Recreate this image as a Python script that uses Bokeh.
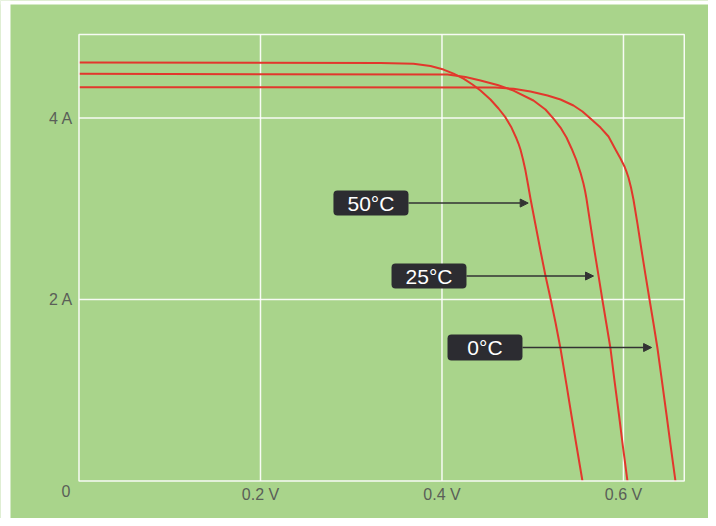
from bokeh.plotting import figure
from bokeh.models import Range1d, BoxAnnotation, Label, Arrow, NormalHead
from bokeh.core.properties import value
from bokeh.embed import file_html
from bokeh.resources import INLINE

# ---- data (voltage in V, current in A) ----
volt_50 = [0.0, 0.3322, 0.3686, 0.3873, 0.4017, 0.4127, 0.4237, 0.4336, 0.4424, 0.4534, 0.4623,
           0.4700, 0.4766, 0.4821, 0.4843, 0.4865, 0.4893, 0.4920, 0.4948, 0.4975, 0.5030, 0.5085,
           0.5140, 0.5196, 0.5251, 0.5306, 0.5372, 0.5427, 0.5482, 0.5548]
amp_50 = [4.612, 4.606, 4.597, 4.573, 4.534, 4.490, 4.435, 4.369, 4.303, 4.204, 4.105,
          4.006, 3.895, 3.774, 3.719, 3.653, 3.543, 3.421, 3.267, 3.113, 2.826, 2.540,
          2.264, 2.011, 1.747, 1.460, 1.063, 0.722, 0.391, 0.0]

volt_25 = [0.0, 0.4061, 0.4259, 0.4424, 0.4612, 0.4788, 0.5008, 0.5140, 0.5229, 0.5306, 0.5372,
           0.5438, 0.5482, 0.5526, 0.5559, 0.5576, 0.5592, 0.5636, 0.5680, 0.5725, 0.5769, 0.5813,
           0.5857, 0.5901, 0.5950, 0.5994, 0.6044]
amp_25 = [4.487, 4.479, 4.452, 4.413, 4.364, 4.303, 4.193, 4.094, 3.994, 3.895, 3.785,
          3.642, 3.532, 3.399, 3.278, 3.201, 3.113, 2.826, 2.540, 2.264, 1.989, 1.725,
          1.460, 1.107, 0.733, 0.380, 0.0]

volt_0 = [0.0, 0.4590, 0.4788, 0.4975, 0.5163, 0.5306, 0.5449, 0.5548, 0.5636, 0.5747, 0.5835,
          0.5912, 0.5967, 0.6011, 0.6033, 0.6055, 0.6083, 0.6110, 0.6154, 0.6198, 0.6242, 0.6287,
          0.6331, 0.6375, 0.6419, 0.6474, 0.6518, 0.6573]
amp_0 = [4.339, 4.336, 4.322, 4.292, 4.248, 4.204, 4.138, 4.072, 3.994, 3.895, 3.796,
         3.653, 3.554, 3.466, 3.410, 3.344, 3.234, 3.102, 2.837, 2.551, 2.275, 2.000,
         1.736, 1.460, 1.140, 0.733, 0.402, 0.0]

x_ticks = [0.2, 0.4, 0.6]
x_tick_labels = ["0.2 V", "0.4 V", "0.6 V"]
y_ticks = [2, 4]
y_tick_labels = ["2 A", "4 A"]
origin_label = "0"
x_max = 0.667
y_max = 4.92

temp_labels = ["50°C", "25°C", "0°C"]
arrow_tip_v = [0.495, 0.567, 0.631]

# ---- layout of the callout boxes (data coordinates) ----
box_left = [0.2804, 0.3444, 0.4061]
box_right = [0.3631, 0.4270, 0.4887]
box_top = [3.20, 2.397, 1.614]
box_bottom = [2.926, 2.121, 1.328]

GREEN = "#a9d48b"
RED = "#e2372c"
DARK = "#2c2c31"
GREY = "#5a5f58"
FONT = "Liberation Sans"

X_LO, X_HI = -0.0865, 0.6937
Y_LO, Y_HI = -0.413, 5.295

# the plotting frame covers the whole canvas; the chart box (0..x_max, 0..y_max) sits inside it
p = figure(width=708, height=518, x_range=Range1d(X_LO, X_HI), y_range=Range1d(Y_LO, Y_HI),
           output_backend="svg", toolbar_location=None, x_axis_location=None, y_axis_location=None,
           min_border=0, background_fill_color=GREEN, border_fill_color=GREEN,
           outline_line_color=None)
p.grid.visible = False

# white paper edges at the left and top, as in the original
p.add_layout(BoxAnnotation(left=X_LO, right=X_LO + 10 / 908.0, fill_color="white", fill_alpha=1,
                           line_color=None))
p.add_layout(BoxAnnotation(bottom=Y_HI - 4 / 90.75, top=Y_HI, fill_color="white", fill_alpha=1,
                           line_color=None))

# grid lines and frame
p.segment(x0=x_ticks, y0=[0] * len(x_ticks), x1=x_ticks, y1=[y_max] * len(x_ticks),
          line_color="white", line_width=1.5, line_alpha=0.9)
p.segment(x0=[0] * len(y_ticks), y0=y_ticks, x1=[x_max] * len(y_ticks), y1=y_ticks,
          line_color="white", line_width=1.5, line_alpha=0.9)
p.add_layout(BoxAnnotation(left=0, right=x_max, bottom=0, top=y_max, fill_alpha=0,
                           line_color="white", line_width=1.5, line_alpha=0.9))

# tick labels
p.text(x=x_ticks, y=[0] * len(x_ticks), text=x_tick_labels, y_offset=13, text_align="center",
       text_baseline="middle", text_color=GREY, text_font=value(FONT), text_font_size="16px")
p.text(x=[0] * len(y_ticks), y=y_ticks, text=y_tick_labels, x_offset=-6, text_align="right",
       text_baseline="middle", text_color=GREY, text_font=value(FONT), text_font_size="16px")
p.text(x=[0], y=[0], text=[origin_label], x_offset=-13, y_offset=10, text_align="center",
       text_baseline="middle", text_color=GREY, text_font=value(FONT), text_font_size="16px")

for vv, ii in ((volt_50, amp_50), (volt_25, amp_25), (volt_0, amp_0)):
    p.line(vv, ii, line_color=RED, line_width=2, line_join="round")

for k, lab in enumerate(temp_labels):
    p.add_layout(BoxAnnotation(left=box_left[k], right=box_right[k], top=box_top[k], bottom=box_bottom[k],
                               fill_color=DARK, fill_alpha=1, line_color=None, border_radius=4))
    cy = (box_top[k] + box_bottom[k]) / 2
    p.add_layout(Label(x=(box_left[k] + box_right[k]) / 2, y=cy, text=lab, text_align="center",
                       text_baseline="middle", text_color="white", text_font=FONT, text_font_size="21px"))
    p.add_layout(Arrow(x_start=box_right[k], y_start=cy, x_end=arrow_tip_v[k], y_end=cy,
                       line_color="#333333", line_width=1.5,
                       end=NormalHead(size=8, fill_color="#333333", line_color="#333333")))

open("out.html", "w").write(file_html(p, INLINE))
